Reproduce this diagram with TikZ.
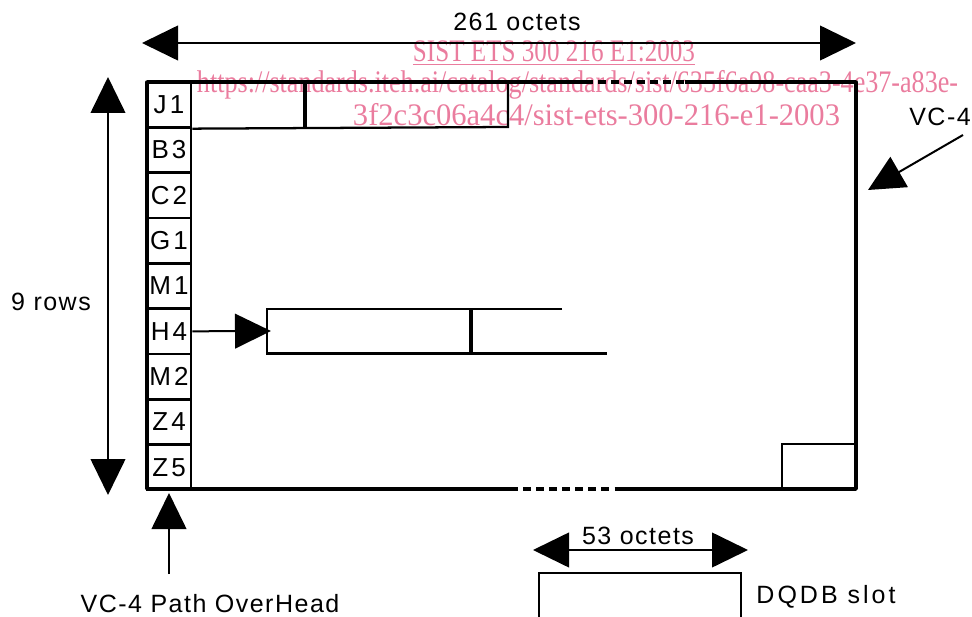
\documentclass[tikz,border=0pt]{standalone}
\usepackage{fontspec}
\setmainfont{Liberation Sans}[LetterSpace=6]
\newfontfamily\widefont{Liberation Sans}[LetterSpace=12]
\newfontfamily\wmfont{Liberation Serif}
\usetikzlibrary{arrows.meta}
\definecolor{wmpink}{RGB}{234,124,158}
\tikzset{
  lbl/.style={font=\fontsize{18.75}{20}\selectfont, inner sep=0pt},
  cell/.style={draw, line width=2pt, minimum width=33pt, minimum height=34pt, inner sep=0pt, font=\widefont\fontsize{19.5}{20}\selectfont},
  frame/.style={line width=2.6pt},
  thin/.style={line width=1.7pt},
  wm/.style={text=wmpink, font=\wmfont\fontsize{23.5}{24}\selectfont, inner sep=0pt, anchor=base},
  onetip/.style={line width=1.5pt, -{Triangle[length=27pt,width=26pt]}},
  twotip/.style={line width=1.5pt, {Triangle[length=27pt,width=26pt]}-{Triangle[length=27pt,width=26pt]}}
}
\begin{document}
\begin{tikzpicture}[x=0.75pt,y=-0.75pt]
\useasboundingbox (0,0) rectangle (972,617);
% watermark
\node[wm] (wm1) at (554,62) {\underline{\resizebox{211.5pt}{\height}{SIST ETS 300 216 E1:2003}}};
\node[wm] (wm2) at (577.5,93) {\resizebox{570.75pt}{\height}{https://standards.iteh.ai/catalog/standards/sist/635f6a98-caa3-4e37-a83e-}};
\node[wm] (wm3) at (596.5,125) {\resizebox{365.25pt}{\height}{3f2c3c06a4c4/sist-ets-300-216-e1-2003}};
% POH column
\foreach \t/\n [count=\i] in {J1/j1,B3/b3,C2/c2,G1/g1,M1/m1,H4/h4,M2/m2,Z4/z4,Z5/z5}
  \node[cell] (\n) at (169,{82+45.33*(\i-0.5)}) {\t};
% main frame
\coordinate (tl) at (147,82);
\coordinate (tr) at (856,82);
\coordinate (br) at (856,489);
\coordinate (bl) at (147,489);
\coordinate (td1) at (585,82);
\coordinate (td2) at (685,82);
\coordinate (bd1) at (620,489);
\coordinate (bd2) at (510,489);
\draw[frame] (tl) -- (td1);
\draw[frame] (td2) -- (tr);
\draw[frame, line cap=round, line join=round] (tl) -- (bl) -- (bd2);
\draw[frame, line cap=round, line join=round] (tr) -- (br) -- (bd1);
\draw[frame, dash pattern=on 6pt off 3.8pt] (td1) -- (td2);
\draw[frame, dash pattern=on 6pt off 3.8pt] (bd2) -- (bd1);
% J1 row boxes
\draw[thin] (j1.south east) -- (508,127) -- (508,82);
\draw[frame] (305,82) -- (305,127);
% bottom right box
\draw[thin] (782,489) -- (782,444) -- (856,444);
% H4 pointer
\coordinate (ptrin) at (271,331);
\draw[thin] (562,309) -- (267,309) -- (267,353.5) -- (607,353.5);
\draw[frame] (471,309) -- (471,353.5);
\draw[onetip] (h4.east) -- (ptrin);
% 261 octets
\coordinate (oL) at (142,43);
\coordinate (oR) at (856,43);
\draw[twotip] (oL) -- (oR);
\node[lbl] (o261) at (517,22) {261 octets};
% 9 rows
\coordinate (rT) at (108,77);
\coordinate (rB) at (108,495);
\draw[twotip] (rT) -- (rB);
\node[lbl] (rows) at (51,302) {9 rows};
% VC-4
\node[lbl] (vc4) at (940,117) {VC-4};
\coordinate (vc4a) at (963,135);
\coordinate (vc4tip) at (868,190);
\draw[onetip] (vc4a) -- (vc4tip);
% POH label
\node[lbl] (poh) at (210,604) {VC-4 Path OverHead};
\coordinate (pohtail) at (169,574);
\draw[onetip] (pohtail) -- (169,493);
% 53 octets / DQDB
\coordinate (sL) at (533,550);
\coordinate (sR) at (748,550);
\draw[twotip] (sL) -- (sR);
\node[lbl] (o53) at (638,536) {53 octets};
\draw[thin] (539,620) -- (539,573) -- (741,573) -- (741,620);
\node[lbl, font=\widefont\fontsize{18.75}{20}\selectfont] (dqdb) at (826,597) {DQDB slot};
\end{tikzpicture}
\end{document}
